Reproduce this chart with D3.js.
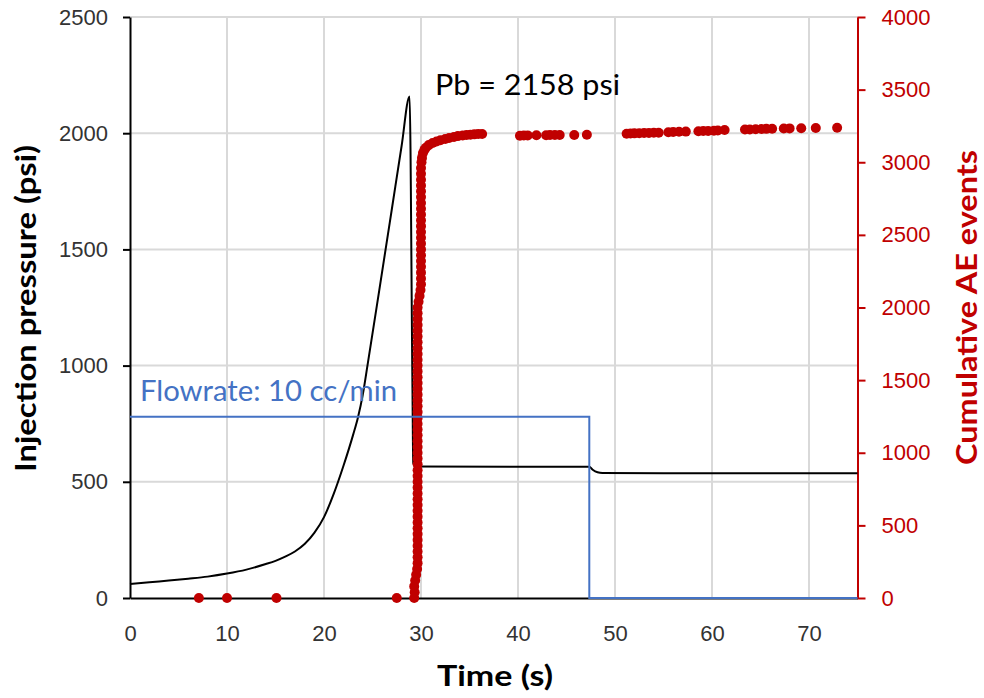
<!DOCTYPE html>
<html>
<head>
<meta charset="utf-8">
<script src="https://cdn.jsdelivr.net/npm/d3@7"></script>
<style>
  body { margin: 0; background: #fff; }
  svg { display: block; font-family: Lato, "Open Sans", sans-serif; }
</style>
</head>
<body>
<svg id="chart"></svg>
<script>
'use strict';

// axis ticks
var timeTicks = [0, 10, 20, 30, 40, 50, 60, 70];
var pressureTicks = [0, 500, 1000, 1500, 2000, 2500];
var aeTicks = [0, 500, 1000, 1500, 2000, 2500, 3000, 3500, 4000];

// injection pressure (psi) vs time (s)
var pressureTime  = [0, 2, 4, 6, 8, 10, 12, 14, 15, 16, 17, 18, 19, 20, 21, 22, 23, 23.5, 24, 24.5, 25.7, 27, 28, 28.82, 29.12, 29.2, 29.5, 40, 47.35, 47.7, 48.2, 48.7, 55, 75];
var pressureValue = [60, 68, 75, 83, 92, 105, 122, 146, 160, 178, 200, 232, 280, 348, 448, 568, 702, 777, 875, 1005, 1325, 1675, 1945, 2158, 900, 580, 566, 565, 565, 552, 541, 538, 537, 537];

// flowrate step, drawn against the pressure axis
var flowTime  = [0, 47.35, 47.35, 75];
var flowValue = [780, 780, 0, 0];

// cumulative AE events [time, count]
var aeEvents = [
  [7.1, 0], [10.0, 0], [15.1, 0], [27.5, 0],
  [29.3, 0], [29.35, 40], [29.3, 80], [29.4, 120], [29.5, 160], [29.6, 200],
  [29.65, 240], [29.65, 280], [29.65, 320], [29.65, 360], [29.65, 400], [29.65, 440],
  [29.65, 480], [29.65, 520], [29.65, 560], [29.65, 600], [29.65, 640], [29.65, 680],
  [29.65, 720], [29.65, 760], [29.65, 800], [29.65, 840], [29.65, 880], [29.65, 920],
  [29.65, 960], [29.65, 1000], [29.65, 1040], [29.65, 1080], [29.65, 1120], [29.65, 1160],
  [29.65, 1200], [29.65, 1240], [29.65, 1280], [29.65, 1320], [29.65, 1360], [29.65, 1400],
  [29.65, 1440], [29.65, 1480], [29.65, 1520], [29.65, 1560], [29.65, 1600], [29.65, 1640],
  [29.65, 1680], [29.65, 1720], [29.65, 1760], [29.65, 1800], [29.65, 1840], [29.65, 1880],
  [29.65, 1920], [29.65, 1960], [29.65, 2000],
  [29.75, 2040], [29.85, 2080], [29.95, 2120],
  [30.0, 2160], [30.0, 2200], [30.0, 2240], [30.0, 2280], [30.0, 2320], [30.0, 2360],
  [30.0, 2400], [30.0, 2440], [30.0, 2480], [30.0, 2520], [30.0, 2560], [30.0, 2600],
  [30.0, 2640], [30.0, 2680], [30.0, 2720], [30.0, 2760], [30.0, 2800], [30.0, 2840],
  [30.0, 2880], [30.0, 2920], [30.0, 2960],
  [30.05, 3000], [30.1, 3030], [30.2, 3064], [30.35, 3085], [30.5, 3100], [30.8, 3118],
  [31.2, 3132], [31.6, 3143], [32.0, 3152], [32.5, 3160], [32.9, 3167], [33.4, 3174],
  [33.8, 3180], [34.3, 3184], [34.7, 3188], [35.1, 3190], [35.5, 3192], [35.9, 3194],
  [36.3, 3195],
  [40.2, 3183], [40.6, 3184], [41.0, 3185], [41.9, 3186], [42.9, 3186], [43.3, 3187],
  [43.8, 3187], [44.3, 3188], [45.8, 3188], [47.1, 3189],
  [51.2, 3196], [51.6, 3198], [52.0, 3199], [52.5, 3200], [53.0, 3201], [53.5, 3202],
  [54.0, 3203], [54.5, 3203], [55.5, 3207], [56.0, 3209], [56.6, 3210], [57.3, 3211],
  [58.6, 3214], [59.1, 3215], [59.6, 3216], [60.2, 3217], [60.6, 3218], [61.3, 3222],
  [63.4, 3225], [63.9, 3226], [64.5, 3227], [65.1, 3229], [65.6, 3230], [66.2, 3231],
  [67.4, 3232], [68.0, 3233], [69.2, 3234], [70.7, 3236], [72.9, 3238]
];

// chart size
var W = 984, H = 698;
var margin = { top: 17, right: 126.5, bottom: 100, left: 130 };
var width  = W - margin.left - margin.right;
var height = H - margin.top - margin.bottom;

var RED = '#C00000', BLUE = '#4472C4', GRID = '#D9D9D9';

var svg = d3.select('#chart').attr('width', W).attr('height', H);
var g = svg.append('g').attr('transform', 'translate(' + margin.left + ',' + margin.top + ')');

var x  = d3.scaleLinear().domain([0, 75]).range([0, width]);
var y  = d3.scaleLinear().domain([0, 2500]).range([height, 0]);
var y2 = d3.scaleLinear().domain([0, 4000]).range([height, 0]);
var fmt = d3.format('d');

// grid
g.append('g').selectAll('line').data(timeTicks.slice(1)).join('line')
  .attr('x1', function(d){ return x(d); }).attr('x2', function(d){ return x(d); })
  .attr('y1', 0).attr('y2', height)
  .attr('stroke', GRID).attr('stroke-width', 2);
g.append('g').selectAll('line').data(pressureTicks.slice(1)).join('line')
  .attr('x1', 0).attr('x2', width)
  .attr('y1', function(d){ return y(d); }).attr('y2', function(d){ return y(d); })
  .attr('stroke', GRID).attr('stroke-width', 2);

// axes
var xAxis = g.append('g')
  .attr('transform', 'translate(0,' + height + ')')
  .call(d3.axisBottom(x).tickValues(timeTicks).tickFormat(fmt).tickSize(0).tickSizeOuter(0).tickPadding(27));
xAxis.select('.domain').attr('stroke', '#000').attr('stroke-width', 2);
xAxis.selectAll('text').attr('font-size', 22).attr('fill', '#333');

var yAxis = g.append('g')
  .call(d3.axisLeft(y).tickValues(pressureTicks).tickFormat(fmt).tickSize(7).tickSizeOuter(0).tickPadding(15));
yAxis.select('.domain').attr('stroke', '#000').attr('stroke-width', 2);
yAxis.selectAll('.tick line').attr('stroke', '#000').attr('stroke-width', 2);
yAxis.selectAll('text').attr('font-size', 22).attr('fill', '#333');

var yAxis2 = g.append('g')
  .attr('transform', 'translate(' + width + ',0)')
  .call(d3.axisRight(y2).tickValues(aeTicks).tickFormat(fmt).tickSize(8).tickSizeOuter(0).tickPadding(16));
yAxis2.select('.domain').attr('stroke', RED).attr('stroke-width', 2);
yAxis2.selectAll('.tick line').attr('stroke', RED).attr('stroke-width', 2);
yAxis2.selectAll('text').attr('font-size', 22).attr('fill', RED);

// pressure line
var pressure = pressureTime.map(function(t, i){ return { t: t, v: pressureValue[i] }; });
g.append('path').datum(pressure)
  .attr('fill', 'none').attr('stroke', '#000').attr('stroke-width', 2)
  .attr('d', d3.line()
    .x(function(d){ return x(d.t); })
    .y(function(d){ return y(d.v); })
    .curve(d3.curveMonotoneX));

// AE events
g.append('g').selectAll('circle').data(aeEvents).join('circle')
  .attr('cx', function(d){ return x(d[0]); })
  .attr('cy', function(d){ return y2(d[1]); })
  .attr('r', 5)
  .attr('fill', RED);

// flowrate
var flow = flowTime.map(function(t, i){ return { t: t, v: flowValue[i] }; });
g.append('path').datum(flow)
  .attr('fill', 'none').attr('stroke', BLUE).attr('stroke-width', 2)
  .attr('d', d3.line().x(function(d){ return x(d.t); }).y(function(d){ return y(d.v); }));

// annotations
svg.append('text')
  .attr('x', 140).attr('y', 401)
  .attr('font-size', 29).attr('fill', BLUE)
  .attr('textLength', 257).attr('lengthAdjust', 'spacingAndGlyphs')
  .text('Flowrate: 10 cc/min');

svg.append('text')
  .attr('x', 435).attr('y', 95)
  .attr('font-size', 28).attr('fill', '#000')
  .attr('textLength', 185).attr('lengthAdjust', 'spacingAndGlyphs')
  .text('Pb = 2158 psi');

// axis titles
svg.append('text')
  .attr('x', 495).attr('y', 686)
  .attr('text-anchor', 'middle')
  .attr('font-size', 28).attr('font-weight', 'bold').attr('fill', '#000')
  .attr('textLength', 116).attr('lengthAdjust', 'spacingAndGlyphs')
  .text('Time (s)');

svg.append('text')
  .attr('transform', 'translate(36,308.5) rotate(-90)')
  .attr('text-anchor', 'middle')
  .attr('font-size', 28).attr('font-weight', 'bold').attr('fill', '#000')
  .attr('textLength', 327).attr('lengthAdjust', 'spacingAndGlyphs')
  .text('Injection pressure (psi)');

svg.append('text')
  .attr('transform', 'translate(977,307.5) rotate(-90)')
  .attr('text-anchor', 'middle')
  .attr('font-size', 28).attr('font-weight', 'bold').attr('fill', RED)
  .attr('textLength', 315).attr('lengthAdjust', 'spacingAndGlyphs')
  .text('Cumulative AE events');
</script>
</body>
</html>
